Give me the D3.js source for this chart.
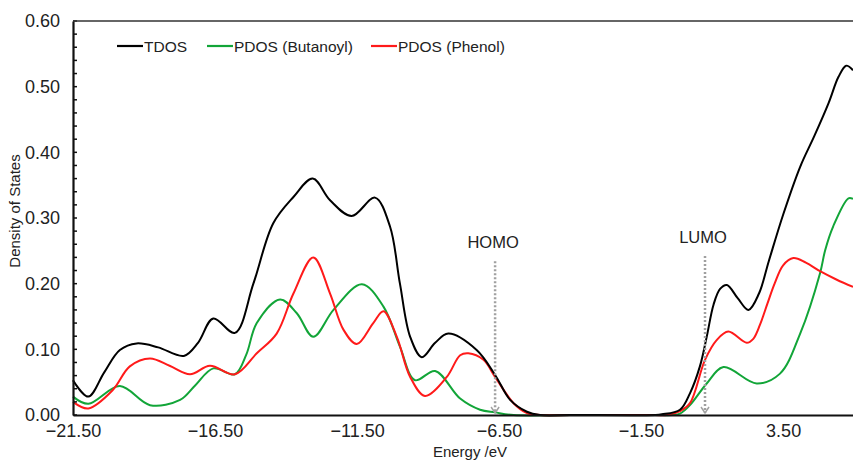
<!DOCTYPE html>
<html>
<head>
<meta charset="utf-8">
<script src="https://cdn.jsdelivr.net/npm/d3@7"></script>
<style>
  body { margin: 0; background: #fff; }
  text { font-family: "Liberation Sans", Arial, sans-serif; fill: #222; }
</style>
</head>
<body>
<div id="vis"></div>
<script>
const frame_width = 853;
const frame_height = 461;
const margins = {left: 73, right: 0, top: 21, bottom: 46};

// data: energy (eV) and density of states
const tdos_e = [-21.5, -20.96, -20.4, -19.85, -19.26, -18.5, -17.6, -17.1, -16.56, -15.8, -15.15, -14.45, -13.74, -13.06, -12.45, -11.69, -10.87, -10.34, -9.99, -9.63, -9.22, -8.75, -8.29, -7.29, -6.64, -6.11, -5.52, -5.06, -4.0, -1.0, -0.77, -0.13, 0.22, 0.57, 0.81, 1.05, 1.28, 1.52, 1.9, 2.28, 2.65, 3.0, 3.5, 4.1, 4.6, 5.1, 5.45, 5.72, 5.96];
const tdos_v = [0.053, 0.028, 0.065, 0.099, 0.109, 0.103, 0.090, 0.110, 0.147, 0.125, 0.200, 0.292, 0.332, 0.360, 0.327, 0.303, 0.331, 0.287, 0.200, 0.119, 0.088, 0.110, 0.124, 0.099, 0.061, 0.023, 0.005, 0.0, 0.0, 0.0, 0.001, 0.008, 0.033, 0.074, 0.119, 0.168, 0.192, 0.198, 0.178, 0.160, 0.185, 0.235, 0.305, 0.378, 0.425, 0.475, 0.515, 0.532, 0.525];

const butanoyl_e = [-21.5, -20.96, -19.85, -18.79, -17.73, -17.2, -16.56, -15.8, -15.4, -15.03, -14.21, -13.62, -13.04, -12.33, -11.33, -10.57, -9.99, -9.46, -8.75, -7.87, -7.17, -6.64, -5.99, -4.0, -1.0, -0.4, -0.13, 0.22, 0.81, 1.4, 2.57, 3.39, 4.1, 4.8, 4.98, 5.26, 5.8, 5.96];
const butanoyl_v = [0.028, 0.017, 0.044, 0.015, 0.023, 0.045, 0.071, 0.062, 0.092, 0.140, 0.176, 0.155, 0.119, 0.160, 0.199, 0.165, 0.104, 0.053, 0.067, 0.025, 0.008, 0.004, 0.0, 0.0, 0.0, 0.0, 0.002, 0.015, 0.048, 0.073, 0.048, 0.063, 0.124, 0.216, 0.251, 0.287, 0.330, 0.329];

const phenol_e = [-21.5, -20.96, -20.1, -19.5, -18.79, -18.1, -17.38, -16.68, -15.8, -15.03, -14.33, -13.74, -13.04, -12.45, -11.98, -11.51, -10.93, -10.57, -10.1, -9.63, -9.11, -8.34, -7.87, -7.58, -7.05, -6.64, -5.99, -5.52, -5.06, -4.0, -1.0, -0.6, -0.13, 0.22, 0.75, 1.16, 1.57, 2.22, 2.45, 2.69, 2.95, 3.2, 3.5, 3.86, 4.3, 4.8, 5.39, 5.96];
const phenol_v = [0.020, 0.010, 0.038, 0.074, 0.086, 0.075, 0.062, 0.075, 0.062, 0.094, 0.124, 0.185, 0.240, 0.185, 0.130, 0.108, 0.140, 0.158, 0.119, 0.058, 0.029, 0.058, 0.091, 0.094, 0.084, 0.058, 0.018, 0.003, 0.0, 0.0, 0.0, 0.0, 0.006, 0.018, 0.084, 0.114, 0.127, 0.110, 0.116, 0.138, 0.170, 0.200, 0.228, 0.239, 0.232, 0.219, 0.206, 0.195];

const x_ticks = [-21.5, -16.5, -11.5, -6.5, -1.5, 3.5];
const y_ticks = [0, 0.1, 0.2, 0.3, 0.4, 0.5, 0.6];

const series_names = ["TDOS", "PDOS (Butanoyl)", "PDOS (Phenol)"];
const series_colors = ["#000000", "#12a538", "#ff1a1a"];

const markers = [{label: "HOMO", e: -6.64, top: 0.234}, {label: "LUMO", e: 0.75, top: 0.242}];

const series = [
    {name: series_names[0], color: series_colors[0], e: tdos_e, v: tdos_v},
    {name: series_names[1], color: series_colors[1], e: butanoyl_e, v: butanoyl_v},
    {name: series_names[2], color: series_colors[2], e: phenol_e, v: phenol_v}
];

const svg = d3.select("#vis")
    .append("svg")
        .attr("width", frame_width)
        .attr("height", frame_height);

const x_scale = d3.scaleLinear()
    .domain([-21.5, 5.96])
    .range([margins.left, frame_width - margins.right]);
const y_scale = d3.scaleLinear()
    .domain([0, 0.6])
    .range([frame_height - margins.bottom, margins.top]);

const line = d3.line()
    .x((d) => x_scale(d[0]))
    .y((d) => y_scale(d[1]))
    .curve(d3.curveCatmullRom.alpha(0.5));

// curves, drawn so that TDOS sits on top like in the picture
[1, 2, 0].forEach((i) => {
    const s = series[i];
    svg.append("path")
        .datum(s.e.map((e, j) => [e, s.v[j]]))
        .attr("fill", "none")
        .attr("stroke", s.color)
        .attr("stroke-width", 2)
        .attr("d", line);
});

// HOMO / LUMO markers
markers.forEach((m) => {
    const mx = x_scale(m.e);
    svg.append("line")
        .attr("x1", mx).attr("x2", mx)
        .attr("y1", y_scale(m.top)).attr("y2", y_scale(0) - 2)
        .attr("stroke", "#a0a0a0")
        .attr("stroke-width", 2.5)
        .attr("stroke-dasharray", "2,2");
    svg.append("path")
        .attr("d", "M" + (mx - 4) + "," + (y_scale(0) - 8) + "L" + mx + "," + (y_scale(0) - 2) + "L" + (mx + 4) + "," + (y_scale(0) - 8))
        .attr("fill", "none")
        .attr("stroke", "#a0a0a0")
        .attr("stroke-width", 1.5);
    svg.append("text")
        .attr("x", mx - 2)
        .attr("y", y_scale(m.top) - 13)
        .attr("text-anchor", "middle")
        .attr("font-size", "16.5px")
        .text(m.label);
});

// y axis with inside minor ticks every 0.02
const y_axis = svg.append("g")
    .attr("transform", "translate(" + margins.left + ",0)")
    .call(d3.axisLeft(y_scale).tickValues(y_ticks).tickFormat(d3.format(".2f")).tickSize(0).tickPadding(13));
y_axis.select(".domain").attr("stroke", "#111").attr("stroke-width", 2.2);
y_axis.selectAll("text").attr("font-size", "18px").attr("fill", "#222");

const minor = d3.range(0, 0.6001, 0.02);
svg.append("g")
    .selectAll("line")
    .data(minor)
    .enter()
    .append("line")
        .attr("x1", margins.left)
        .attr("x2", margins.left + 4)
        .attr("y1", (d) => y_scale(d))
        .attr("y2", (d) => y_scale(d))
        .attr("stroke", "#111")
        .attr("stroke-width", 1.5);

// x axis
const x_axis = svg.append("g")
    .attr("transform", "translate(0," + y_scale(0) + ")")
    .call(d3.axisBottom(x_scale).tickValues(x_ticks).tickFormat(d3.format(".2f")).tickSize(0).tickPadding(9));
x_axis.select(".domain").attr("stroke", "#111").attr("stroke-width", 2.2);
x_axis.selectAll("text").attr("font-size", "18px").attr("fill", "#222");

// top frame line
svg.append("line")
    .attr("x1", margins.left).attr("x2", frame_width)
    .attr("y1", margins.top).attr("y2", margins.top)
    .attr("stroke", "#333")
    .attr("stroke-width", 1.5);

// axis titles
svg.append("text")
    .attr("x", 470)
    .attr("y", 457)
    .attr("text-anchor", "middle")
    .attr("font-size", "15px")
    .text("Energy /eV");
svg.append("text")
    .attr("transform", "translate(20," + 211 + ") rotate(-90)")
    .attr("text-anchor", "middle")
    .attr("font-size", "15px")
    .text("Density of States");

// legend
const legend_x = [117, 207, 371];
series.forEach((s, i) => {
    const g = svg.append("g").attr("transform", "translate(" + legend_x[i] + ",46)");
    g.append("line")
        .attr("x1", 0).attr("x2", 26)
        .attr("stroke", s.color)
        .attr("stroke-width", 2.2);
    g.append("text")
        .attr("x", 27)
        .attr("y", 5.5)
        .attr("font-size", "15.5px")
        .text(s.name);
});
</script>
</body>
</html>
